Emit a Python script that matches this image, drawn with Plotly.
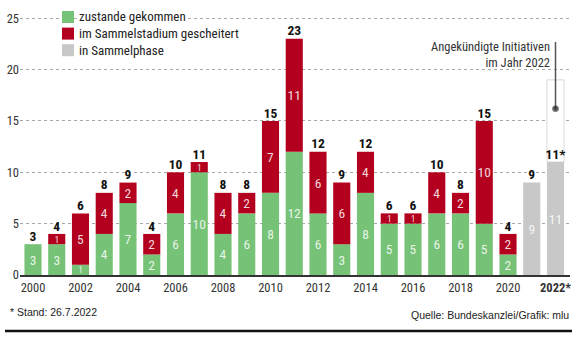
import plotly.graph_objects as go

# Volksinitiativen pro Jahr
years = list(range(2000, 2021))
zustande = [3, 3, 1, 4, 7, 2, 6, 10, 4, 6, 8, 12, 6, 3, 8, 5, 5, 6, 6, 5, 2]
gescheitert = [0, 1, 5, 4, 2, 2, 4, 1, 4, 2, 7, 11, 6, 6, 4, 1, 1, 4, 2, 10, 2]
sammel_years = [2021, 2022]
sammelphase = [9, 11]
angekuendigt_2022 = 19  # angekündigte Initiativen im Jahr 2022

tick_vals = list(range(2000, 2023, 2))
tick_text = [str(v) for v in range(2000, 2021, 2)] + ["<b>2022*</b>"]

series_names = ["zustande gekommen", "im Sammelstadium gescheitert", "in Sammelphase"]

GREEN = "#76c276"
RED = "#b3001e"
GREY = "#c8c8c8"
NARROW = "Liberation Sans Narrow, Roboto Condensed, Arial Narrow, DejaVu Sans Condensed, sans-serif"
REGULAR = "Liberation Sans, Arial, sans-serif"
LABEL_COLOR = "rgba(255,255,255,0.85)"

totals = [g + r for g, r in zip(zustande, gescheitert)] + sammelphase
total_x = years + sammel_years
total_text = [str(t) for t in totals[:-1]] + [f"{totals[-1]}*"]

bar_w = 0.72
fig = go.Figure()

# outline of the announced initiatives above the 2022 bar
fig.add_trace(go.Bar(
    x=[2022], y=[angekuendigt_2022 - sammelphase[-1]], base=[sammelphase[-1]],
    width=bar_w, marker=dict(color="white", line=dict(color="#d9d9d9", width=1)),
    showlegend=False, hoverinfo="skip",
))

def stacked(x, vals, base, name, color):
    # one-unit segments are thin, so their labels get a smaller font
    sizes = [9.5 if v == 1 else 13.5 for v in vals]
    return go.Bar(
        x=x, y=vals, base=base, name=name, width=bar_w,
        marker=dict(color=color, line=dict(width=0)),
        text=[str(v) if v else "" for v in vals], textposition="inside",
        insidetextanchor="middle", textangle=0, constraintext="none",
        textfont=dict(color=LABEL_COLOR, size=sizes, family=NARROW),
        showlegend=False,
    )

fig.add_trace(stacked(years, zustande, None, series_names[0], GREEN))
fig.add_trace(stacked(years, gescheitert, zustande, series_names[1], RED))
fig.add_trace(stacked(sammel_years, sammelphase, None, series_names[2], GREY))

# totals above the bars
fig.add_trace(go.Scatter(
    x=total_x, y=totals, mode="text", text=[f"<b>{t}</b>" for t in total_text],
    textposition="top center",
    textfont=dict(color="#111", size=13.5, family=NARROW),
    showlegend=False, hoverinfo="skip", cliponaxis=False,
))

# pointer line to the note on announced initiatives
fig.add_trace(go.Scatter(
    x=[2022, 2022], y=[16.2, 22.7], mode="lines+markers",
    line=dict(color="#555", width=1.5),
    marker=dict(size=[6, 0], color="#111"),
    showlegend=False, hoverinfo="skip",
))

fig.add_annotation(
    x=2022, y=21.5, xref="x", yref="y", xanchor="right", yanchor="middle",
    xshift=-4, align="right", showarrow=False,
    text="Angekündigte Initiativen<br>im Jahr 2022",
    font=dict(family=NARROW, size=12.5, color="#333"),
)

plot_l, plot_w, plot_bottom, plot_h = 20, 550, 275, 267
def px(pixel):
    return (pixel - plot_l) / plot_w
def py(pixel):
    return (plot_bottom - pixel) / plot_h

# legend: coloured squares with labels on a white ground
for i, (name, color) in enumerate(zip(series_names, [GREEN, RED, GREY])):
    cy = 17 + i * 16.6
    fig.add_annotation(
        x=px(77), y=py(cy), xref="paper", yref="paper", xanchor="left", yanchor="middle",
        showarrow=False, text=name, bgcolor="white", borderpad=1,
        font=dict(family=NARROW, size=13, color="#222"),
    )
    fig.add_shape(
        type="rect", xref="paper", yref="paper",
        x0=px(62), x1=px(74), y0=py(cy + 6), y1=py(cy - 6),
        fillcolor=color, line=dict(width=0), layer="above",
    )

fig.add_annotation(
    x=px(8), y=py(312), xref="paper", yref="paper", xanchor="left", yanchor="middle",
    showarrow=False, text="* Stand: 26.7.2022",
    font=dict(family=REGULAR, size=10.5, color="#222"),
)
fig.add_annotation(
    x=px(571), y=py(315), xref="paper", yref="paper", xanchor="right", yanchor="middle",
    showarrow=False, text="Quelle: Bundeskanzlei/Grafik: mlu",
    font=dict(family=REGULAR, size=10.5, color="#222"),
)
fig.add_shape(
    type="line", xref="paper", yref="paper", x0=px(5), x1=px(572), y0=py(331), y1=py(331),
    line=dict(color="#111", width=2.5),
)

fig.update_layout(
    width=582, height=340,
    margin=dict(l=plot_l, r=582 - plot_l - plot_w, t=8, b=65, pad=0),
    paper_bgcolor="white", plot_bgcolor="white",
    barmode="overlay",
    font=dict(family=NARROW, size=12, color="#333"),
    showlegend=False,
    xaxis=dict(
        range=[1999.453, 2022.61], tickvals=tick_vals, ticktext=tick_text,
        showgrid=False, zeroline=False, showline=True, linecolor="#333", linewidth=2,
        ticks="", tickfont=dict(family=NARROW, size=12.5, color="#333"),
    ),
    yaxis=dict(
        range=[0, 26.0], tickvals=[0, 5, 10, 15, 20, 25],
        showgrid=True, gridcolor="#a8a8a8", griddash="dot", gridwidth=1,
        zeroline=False, showline=False, ticks="",
        tickfont=dict(family=NARROW, size=12.5, color="#333"),
    ),
)

fig.write_html("out.html")
